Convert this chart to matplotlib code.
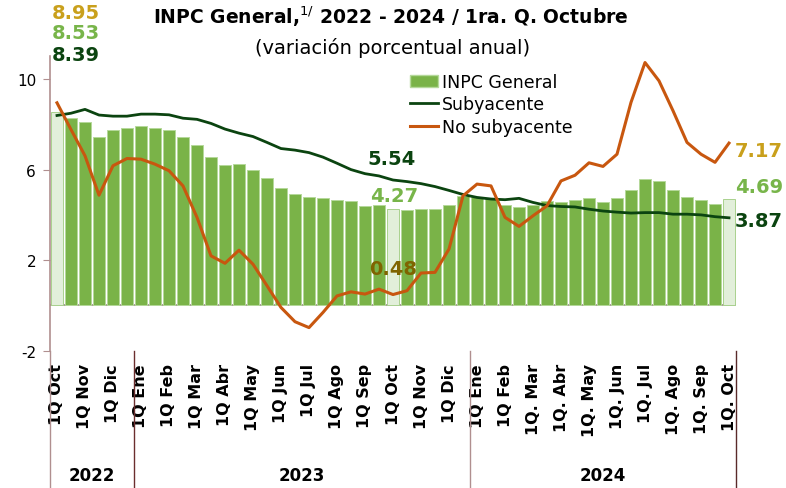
import matplotlib
matplotlib.use("Agg")
from matplotlib import pyplot as plt
from matplotlib import transforms
from matplotlib.patches import Patch
from matplotlib.lines import Line2D

# 1ra. quincena oct 2022 ... 1ra. quincena oct 2024 (49 quincenas)
inpc = [8.53, 8.27, 8.12, 7.42, 7.73, 7.85, 7.92, 7.85, 7.73, 7.46,
        7.08, 6.56, 6.21, 6.25, 5.98, 5.63, 5.17, 4.91, 4.79, 4.75,
        4.64, 4.60, 4.40, 4.43, 4.27, 4.20, 4.28, 4.28, 4.45, 4.83,
        4.80, 4.73, 4.43, 4.33, 4.45, 4.61, 4.59, 4.64, 4.74, 4.55,
        4.74, 5.12, 5.59, 5.50, 5.12, 4.78, 4.64, 4.48, 4.69]
subyacente = [8.39, 8.49, 8.66, 8.41, 8.36, 8.36, 8.45, 8.45, 8.42, 8.27,
              8.22, 8.04, 7.79, 7.61, 7.46, 7.20, 6.93, 6.86, 6.75, 6.55,
              6.28, 6.00, 5.82, 5.72, 5.54, 5.47, 5.38, 5.25, 5.08, 4.90,
              4.77, 4.70, 4.67, 4.73, 4.55, 4.41, 4.37, 4.35, 4.25, 4.17,
              4.12, 4.08, 4.10, 4.10, 4.03, 4.03, 4.00, 3.92, 3.87]
no_subyacente = [8.95, 7.77, 6.61, 4.87, 6.17, 6.49, 6.46, 6.24, 5.95, 5.28,
                 3.89, 2.19, 1.86, 2.44, 1.82, 0.87, -0.09, -0.72, -0.98, -0.31,
                 0.42, 0.60, 0.50, 0.72, 0.48, 0.65, 1.43, 1.46, 2.49, 4.84,
                 5.36, 5.28, 3.89, 3.49, 3.96, 4.40, 5.50, 5.75, 6.30, 6.14,
                 6.68, 8.97, 10.73, 9.92, 8.60, 7.20, 6.68, 6.32, 7.17]

tick_labels = ["1Q Oct", "1Q Nov", "1Q Dic",
               "1Q Ene", "1Q Feb", "1Q Mar", "1Q Abr", "1Q May", "1Q Jun",
               "1Q Jul", "1Q Ago", "1Q Sep", "1Q Oct", "1Q Nov", "1Q Dic",
               "1Q Ene", "1Q Feb", "1Q. Mar", "1Q. Abr", "1Q. May", "1Q. Jun",
               "1Q. Jul", "1Q. Ago", "1Q. Sep", "1Q. Oct"]
years = ["2022", "2023", "2024"]
year_bounds = [(-0.5, 5.5), (5.5, 29.5), (29.5, 48.5)]
highlight = [0, 24, 48]

GREEN = "#7AB348"
LIGHT = "#E2EFDA"
DARK = "#0B4410"
ORANGE = "#C8570F"
GOLD = "#C9A01C"
LGREEN = "#78B54A"
OLIVE = "#7F6400"
SPINE = "#B08F8F"

plt.rcParams["font.family"] = "DejaVu Sans"
plt.rcParams["axes.unicode_minus"] = False

fig = plt.figure(figsize=(7.86, 4.89), dpi=100)
ax = fig.add_axes([0.0636, 0.2808, 0.8728, 0.6018])

x = list(range(len(inpc)))
colors = [LIGHT if i in highlight else GREEN for i in x]
edges = ["#A9D18E" if i in highlight else "#B5D99A" for i in x]
ax.bar(x, inpc, width=0.9, color=colors, edgecolor=edges, linewidth=0.7, zorder=2)
ax.plot(x, subyacente, color=DARK, lw=2.0, zorder=3)
ax.plot(x, no_subyacente, color=ORANGE, lw=2.2, zorder=4)

ax.axhline(0, color="#9C8A8A", lw=1.2, zorder=1)

ax.set_xlim(-0.5, 48.5)
ax.set_ylim(-2, 11)
ax.set_yticks([-2, 2, 6, 10])
ax.tick_params(axis="y", direction="out", length=5, color=SPINE, labelsize=11, pad=5)
ax.set_xticks(range(0, 49, 2))
ax.set_xticklabels(tick_labels, rotation=90, fontsize=11.5, fontweight="bold")
ax.tick_params(axis="x", length=0, pad=9)

for s in ["top", "right", "bottom"]:
    ax.spines[s].set_visible(False)
ax.spines["left"].set_color(SPINE)
ax.spines["left"].set_linewidth(1.2)

# year separators and labels below the axis
trans = transforms.blended_transform_factory(ax.transData, ax.transAxes)
seps = [-0.5, 5.5, 29.5, 48.5]
sep_colors = [SPINE, "#6B2E2E", SPINE, "#5A2A2A"]
for xs, c in zip(seps, sep_colors):
    ax.plot([xs, xs], [0, -0.47], color=c, lw=1.0, transform=trans, clip_on=False)
for yr, (a, b) in zip(years, year_bounds):
    ax.text((a + b) / 2, -0.422, yr, transform=trans, ha="center", va="center",
            fontsize=12, fontweight="bold")

# value labels
lab = dict(fontsize=14, fontweight="bold")
ax.text(-0.4, 12.93, f"{no_subyacente[0]:.2f}", color=GOLD, ha="left", va="center", **lab)
ax.text(-0.4, 12.05, f"{inpc[0]:.2f}", color=LGREEN, ha="left", va="center", **lab)
ax.text(-0.4, 11.08, f"{subyacente[0]:.2f}", color=DARK, ha="left", va="center", **lab)
ax.text(23.9, 6.48, f"{subyacente[24]:.2f}", color=DARK, ha="center", va="center", **lab)
ax.text(24.1, 4.85, f"{inpc[24]:.2f}", color=LGREEN, ha="center", va="center", **lab)
ax.text(24.0, 1.65, f"{no_subyacente[24]:.2f}", color=OLIVE, ha="center", va="center", **lab)
ax.text(48.4, 6.86, f"{no_subyacente[48]:.2f}", color=GOLD, ha="left", va="center", **lab)
ax.text(48.4, 5.25, f"{inpc[48]:.2f}", color=LGREEN, ha="left", va="center", **lab)
ax.text(48.4, 3.75, f"{subyacente[48]:.2f}", color=DARK, ha="left", va="center", **lab)

handles = [Patch(facecolor=GREEN, edgecolor="#B5D99A"),
           Line2D([], [], color=DARK, lw=2.0),
           Line2D([], [], color=ORANGE, lw=2.2)]
fig.legend(handles, ["INPC General", "Subyacente", "No subyacente"],
           loc="upper left", bbox_to_anchor=(410 / 786, 1 - 74 / 489),
           frameon=False, fontsize=12.5, handlelength=1.6, handletextpad=0.25,
           labelspacing=0.25, borderaxespad=0, borderpad=0)

fig.text(0.497, 0.966, "INPC General,$^{1/}$ 2022 - 2024 / 1ra. Q. Octubre",
         ha="center", va="center", fontsize=13.5, fontweight="bold")
fig.text(0.5, 0.902, "(variación porcentual anual)", ha="center", va="center",
         fontsize=14)

fig.savefig("out.png", dpi=100)
